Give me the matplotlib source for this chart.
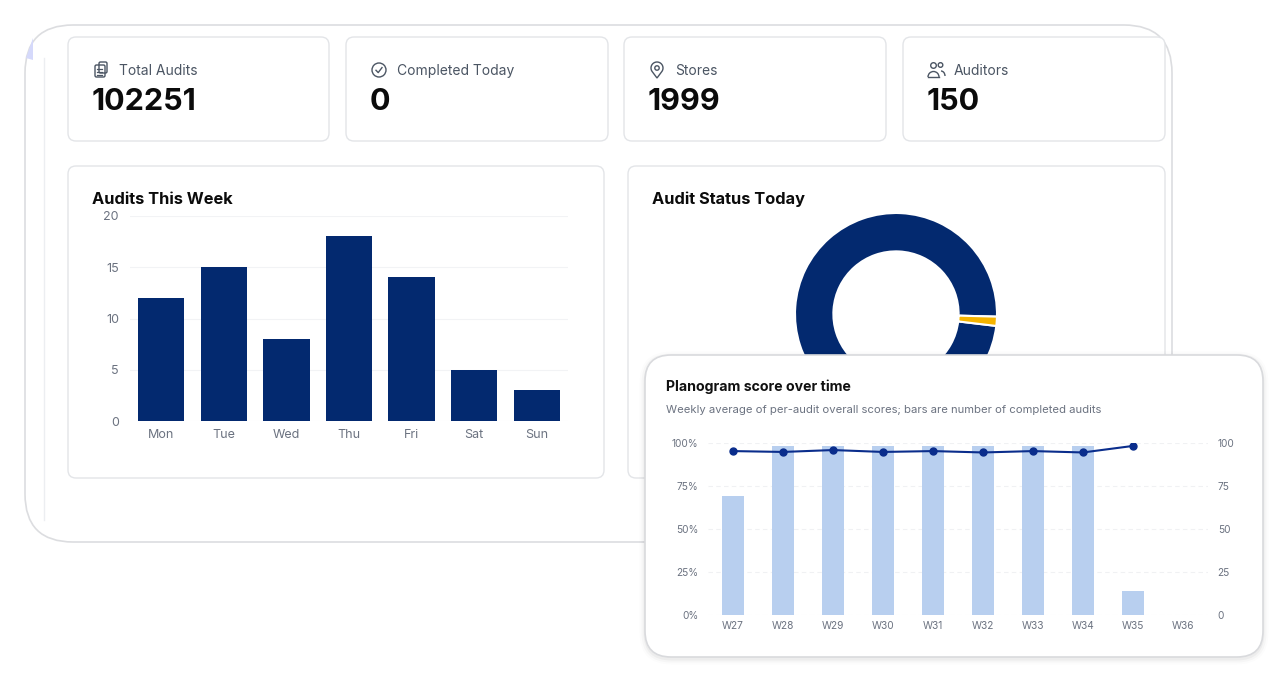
import numpy as np
import matplotlib
matplotlib.use("Agg")
import matplotlib.pyplot as plt
from matplotlib.patches import FancyBboxPatch, Circle, Polygon, Arc

W, H = 1288, 682

# ---- data ----
stat_labels = ["Total Audits", "Completed Today", "Stores", "Auditors"]
stat_values = ["102251", "0", "1999", "150"]

days = ["Mon", "Tue", "Wed", "Thu", "Fri", "Sat", "Sun"]
audits_week = [12, 15, 8, 18, 14, 5, 3]

status_labels = ["Completed", "In Progress"]
status_values = [87, 1.3]

weeks = ["W27", "W28", "W29", "W30", "W31", "W32", "W33", "W34", "W35", "W36"]
completed_audits = [69, 98, 98, 98, 98, 98, 98, 98, 14, 0]
avg_score = [95.3, 94.8, 95.9, 94.8, 95.3, 94.5, 95.3, 94.5, 98.3, np.nan]

NAVY = "#03296f"
YELLOW = "#f5b400"
LIGHT_BLUE = "#b8cfef"
LINE_BLUE = "#0a2d8c"
BORDER = "#e3e5e8"
GRAY_TXT = "#4b5563"
TICK_TXT = "#6b7280"

plt.rcParams["font.family"] = ["Inter", "DejaVu Sans"]

fig = plt.figure(figsize=(W / 100, H / 100), dpi=100)
fig.patch.set_facecolor("white")


def px_axes(x0, y0, x1, y1, z=1):
    a = fig.add_axes([x0 / W, 1 - y1 / H, (x1 - x0) / W, (y1 - y0) / H])
    a.set_zorder(z)
    return a


def pixel_layer(z):
    a = px_axes(0, 0, W, H, z)
    a.set_xlim(0, W)
    a.set_ylim(H, 0)
    a.axis("off")
    a.patch.set_visible(False)
    return a


def card(a, x0, y0, x1, y1, r, ec=BORDER, fc="white", lw=1.0, z=1, alpha=1.0):
    p = FancyBboxPatch((x0, y0), x1 - x0, y1 - y0,
                       boxstyle=f"round,pad=0,rounding_size={r}",
                       fc=fc, ec=ec, lw=lw, zorder=z, alpha=alpha)
    a.add_patch(p)


# ---- background layer ----
bg = pixel_layer(0)
card(bg, 25, 25, 1172, 542, 48, ec="#dcdde0", lw=1.2)
bg.plot([44, 44], [58, 520], color="#eceef1", lw=1, zorder=2)
bg.add_patch(Polygon([[26, 58], [33, 38], [33, 60]], closed=True,
                     fc="#d5d9fb", ec="none", zorder=2))

card_x = [(68, 329), (346, 608), (624, 886), (903, 1165)]
for (x0, x1), lab, val in zip(card_x, stat_labels, stat_values):
    card(bg, x0, 37, x1, 141, 8, z=3)
    bg.text(x0 + 51, 71, lab, fontsize=10, color=GRAY_TXT, va="center", ha="left", zorder=4)
    bg.text(x0 + 24, 102, val, fontsize=22, fontweight="bold", color="#0b0b0b",
            va="center", ha="left", zorder=4)

ICON = "#4b5563"
icon_kw = dict(fc="none", ec=ICON, lw=1.0, zorder=5)
# clipboard
ix = card_x[0][0] + 33
bg.add_patch(FancyBboxPatch((ix - 6, 65), 10, 12, boxstyle="round,pad=0,rounding_size=1.5", **icon_kw))
bg.add_patch(FancyBboxPatch((ix - 2, 62), 8, 11, boxstyle="round,pad=0,rounding_size=1.5", **icon_kw))
for yy in (69, 72, 75):
    bg.plot([ix - 3.5, ix + 1.5], [yy, yy], color=ICON, lw=0.9, zorder=6)
# check circle
ix = card_x[1][0] + 33
bg.add_patch(Circle((ix, 70), 7, **icon_kw))
bg.plot([ix - 3, ix - 0.8, ix + 3], [70.3, 72.6, 67.6], color=ICON, lw=1.0, zorder=6)
# map pin
ix = card_x[2][0] + 33
ang = np.radians(np.linspace(-40, 220, 40))
pin = np.column_stack([ix + 6 * np.cos(ang), 68 - 6 * np.sin(ang)])
pin = np.vstack([pin, [[ix, 78]]])
bg.add_patch(Polygon(pin, closed=True, **icon_kw))
bg.add_patch(Circle((ix, 68), 2.2, **icon_kw))
# users
ix = card_x[3][0] + 33
bg.add_patch(Circle((ix - 2.5, 65.5), 2.8, **icon_kw))
bg.add_patch(Circle((ix + 4.5, 65), 2.3, **icon_kw))
bg.add_patch(Arc((ix - 2.5, 77), 11, 11, theta1=180, theta2=360, color=ICON, lw=1.0, zorder=5))
bg.plot([ix - 8, ix + 3], [77, 77], color=ICON, lw=1.0, zorder=5)
bg.add_patch(Arc((ix + 5, 76), 8, 10, theta1=270, theta2=360, color=ICON, lw=1.0, zorder=5))

card(bg, 68, 166, 604, 478, 8, z=3)
card(bg, 628, 166, 1165, 478, 8, z=3)
bg.text(92, 199, "Audits This Week", fontsize=11.8, fontweight="bold", color="#0b0b0b",
        va="center", ha="left", zorder=4)
bg.text(652, 199, "Audit Status Today", fontsize=11.8, fontweight="bold", color="#0b0b0b",
        va="center", ha="left", zorder=4)

# ---- bar chart: audits this week ----
ax1 = px_axes(130, 216, 568, 421, z=2)
x = np.arange(len(days))
ax1.bar(x, audits_week, width=0.74, color=NAVY, zorder=3)
ax1.set_xlim(-0.5, len(days) - 0.5)
ax1.set_ylim(0, 20)
ax1.set_yticks([0, 5, 10, 15, 20])
ax1.set_xticks(x)
ax1.set_xticklabels(days)
ax1.tick_params(length=0, labelsize=9, labelcolor=TICK_TXT)
ax1.tick_params(axis="y", pad=8)
ax1.tick_params(axis="x", pad=6)
ax1.grid(axis="y", color="#f2f3f5", lw=0.8)
for s in ax1.spines.values():
    s.set_visible(False)
ax1.patch.set_visible(False)

# ---- donut: audit status today ----
ax2 = px_axes(795, 213, 997, 415, z=2)
ax2.pie(status_values, colors=[NAVY, YELLOW], startangle=-1.5, counterclock=True,
        radius=1.0, wedgeprops=dict(width=0.38, edgecolor="white", linewidth=1.5))
ax2.set_xlim(-1.0, 1.0)
ax2.set_ylim(-1.0, 1.0)
ax2.patch.set_visible(False)

# ---- overlay card ----
ov = pixel_layer(5)
for i, a in enumerate([0.035, 0.022, 0.012]):
    g = 1.5 + i * 2
    card(ov, 645 - g, 355 - g + 2, 1263 + g, 657 + g + 2, 26 + g, ec="none", fc="#000000", alpha=a, z=1)
card(ov, 645, 355, 1263, 657, 26, ec="#d9dadd", lw=1.2, z=2)
ov.text(666, 387, "Planogram score over time", fontsize=10.2, fontweight="bold",
        color="#111111", va="center", ha="left", zorder=3)
ov.text(666, 410, "Weekly average of per-audit overall scores; bars are number of completed audits",
        fontsize=8.1, color="#6b7280", va="center", ha="left", zorder=3)

# ---- planogram chart ----
ax3 = px_axes(708, 443, 1208, 615, z=7)
ax3b = ax3.twinx()
ax3b.set_zorder(6)
ax3.patch.set_visible(False)
ax3b.patch.set_visible(False)

xw = np.arange(len(weeks))
ax3b.bar(xw, completed_audits, width=0.44, color=LIGHT_BLUE, zorder=2)
ax3b.set_ylim(0, 100)
ax3b.set_yticks([0, 25, 50, 75, 100])
ax3b.tick_params(length=0, labelsize=7.3, labelcolor=TICK_TXT, pad=7)

ax3.plot(xw, avg_score, color=LINE_BLUE, lw=1.5, marker="o", markersize=5, zorder=4)
ax3.set_ylim(0, 100)
ax3.set_xlim(-0.5, len(weeks) - 0.5)
ax3.set_yticks([0, 25, 50, 75, 100])
ax3.set_yticklabels([f"{v}%" for v in [0, 25, 50, 75, 100]])
ax3.set_xticks(xw)
ax3.set_xticklabels(weeks)
ax3.tick_params(length=0, labelsize=7.3, labelcolor=TICK_TXT)
ax3.tick_params(axis="y", pad=7)
ax3.tick_params(axis="x", pad=4)
ax3b.grid(axis="y", color="#f0f1f3", lw=0.8, ls=(0, (4, 3)))
for a in (ax3, ax3b):
    for s in a.spines.values():
        s.set_visible(False)

fig.savefig("out.png", dpi=100, facecolor="white")
